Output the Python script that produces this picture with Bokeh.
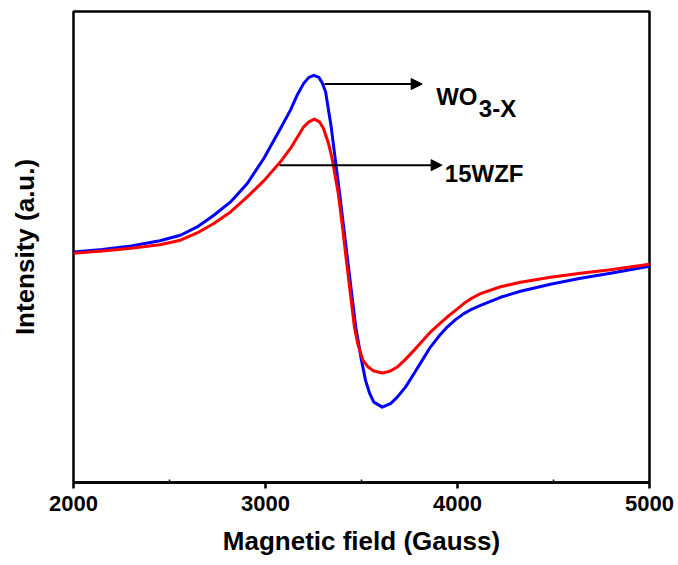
from bokeh.plotting import figure
from bokeh.models import Range1d, FixedTicker, Label, Arrow, NormalHead
from bokeh.embed import file_html
from bokeh.resources import INLINE

# ---- data ----
field_wo3x = [2000, 2150, 2300, 2450, 2557, 2644, 2731, 2818, 2905, 2991, 3078, 3130,
              3165, 3199, 3226, 3252, 3278, 3295, 3313, 3342, 3364, 3386, 3407, 3428,
              3449, 3470, 3500, 3521, 3543, 3564, 3608, 3651, 3686, 3729, 3773, 3816,
              3859, 3903, 3946, 3990, 4033, 4076, 4120, 4224, 4328, 4484, 4641, 4797, 5000]
int_wo3x = [1.8, 4.3, 7.8, 13.0, 18.5, 26.8, 38.5, 51.8, 70.2, 95.2, 125.2, 143.5,
            158.5, 170.2, 176.2, 178.2, 176.2, 170.8, 161.8, 126.8, 93.5, 60.2, 26.8, -6.5,
            -39.8, -73.2, -106.5, -126.5, -139.8, -148.2, -153.2, -149.8, -143.2, -133.2, -119.8, -106.5,
            -93.2, -82.5, -73.2, -65.8, -59.8, -55.2, -51.5, -43.5, -37.5, -30.5, -24.5, -19.5, -12.5]

field_15wzf = [2000, 2150, 2300, 2450, 2557, 2644, 2731, 2818, 2905, 2991, 3078, 3130,
               3165, 3199, 3226, 3255, 3281, 3302, 3328, 3345, 3379, 3401, 3421, 3442,
               3463, 3480, 3508, 3535, 3564, 3608, 3651, 3686, 3729, 3773, 3816, 3859,
               3903, 3946, 3990, 4033, 4076, 4120, 4224, 4328, 4484, 4641, 4797, 5000]
int_15wzf = [0.5, 2.8, 5.5, 9.0, 13.5, 20.8, 30.2, 41.8, 56.8, 72.8, 91.8, 105.2,
             116.2, 126.8, 131.8, 134.5, 131.8, 125.2, 110.2, 96.8, 60.2, 26.8, -6.5, -39.8,
             -73.2, -89.8, -106.5, -113.2, -117.2, -119.2, -117.2, -113.2, -105.5, -96.5, -87.5, -78.2,
             -70.5, -63.2, -56.5, -49.8, -44.2, -39.8, -33.0, -28.5, -23.5, -19.5, -16.0, -10.5]

x_ticks = [2000, 3000, 4000, 5000]
x_minor_ticks = [2500, 3500, 4500]
x_label = "Magnetic field (Gauss)"
y_label = "Intensity (a.u.)"

FONT = "Liberation Sans"

p = figure(width=678, height=565, output_backend="svg", toolbar_location=None,
           x_range=Range1d(2000, 5000), y_range=Range1d(-228.5, 242))
p.min_border_left = 73
p.min_border_right = 29
p.min_border_top = 11
p.min_border_bottom = 83
p.background_fill_color = "white"
p.border_fill_color = "white"
p.outline_line_color = "black"
p.outline_line_width = 2.5
p.xgrid.visible = False
p.ygrid.visible = False

xa = p.xaxis[0]
xa.ticker = FixedTicker(ticks=x_ticks, minor_ticks=x_minor_ticks)
xa.axis_line_color = "black"
xa.axis_line_width = 2.5
xa.major_tick_line_color = "black"
xa.major_tick_line_width = 2.5
xa.major_tick_out = 6
xa.major_tick_in = 0
xa.minor_tick_line_color = "black"
xa.minor_tick_line_width = 1.5
xa.minor_tick_in = 3
xa.minor_tick_out = 0
xa.major_label_text_font = FONT
xa.major_label_text_font_style = "bold"
xa.major_label_text_font_size = "22px"
xa.major_label_text_color = "black"
xa.major_label_standoff = 7
xa.axis_label = x_label
xa.axis_label_text_font = FONT
xa.axis_label_text_font_style = "bold"
xa.axis_label_text_font_size = "26px"
xa.axis_label_text_color = "black"
xa.axis_label_standoff = 12

ya = p.yaxis[0]
ya.ticker = FixedTicker(ticks=[])
ya.axis_line_color = None
ya.major_tick_line_color = None
ya.minor_tick_line_color = None
ya.major_tick_out = 0
ya.major_tick_in = 0
ya.axis_label = y_label
ya.axis_label_text_font = FONT
ya.axis_label_text_font_style = "bold"
ya.axis_label_text_font_size = "26px"
ya.axis_label_text_color = "black"
ya.axis_label_standoff = 34

p.line(field_wo3x, int_wo3x, line_color="#0000FF", line_width=3, line_join="round")
p.line(field_15wzf, int_15wzf, line_color="#FF0000", line_width=3, line_join="round")

p.add_layout(Arrow(end=NormalHead(size=11, fill_color="black", line_color="black", line_width=1),
                   x_start=3307, y_start=169.5, x_end=3816, y_end=169.5,
                   line_color="black", line_width=2))
p.add_layout(Arrow(end=NormalHead(size=11, fill_color="black", line_color="black", line_width=1),
                   x_start=3073, y_start=88.5, x_end=3920, y_end=88.5,
                   line_color="black", line_width=2))

def lab(x, y, t, size="24px"):
    return Label(x=x, y=y, text=t, text_font=FONT, text_font_style="bold",
                 text_font_size=size, text_color="black", text_baseline="alphabetic",
                 text_align="left")

p.add_layout(lab(3889, 156.8, "WO"))
p.add_layout(lab(4111, 145.2, "3-X"))
p.add_layout(lab(3934, 80.2, "15WZF"))

open("out.html", "w").write(file_html(p, INLINE))
